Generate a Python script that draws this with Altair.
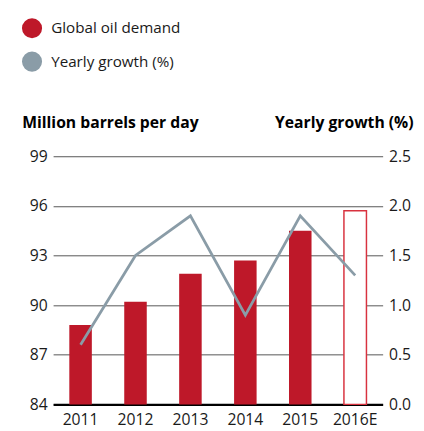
import altair as alt
import pandas as pd

years = ["2011", "2012", "2013", "2014", "2015", "2016E"]
demand = [88.8, 90.2, 91.9, 92.7, 94.5, 95.7]
growth = [0.6, 1.5, 1.9, 0.9, 1.9, 1.3]
estimate = [False, False, False, False, False, True]
series = ["Global oil demand", "Yearly growth (%)"]
left_ticks = [84, 87, 90, 93, 96, 99]
right_ticks = [0.0, 0.5, 1.0, 1.5, 2.0, 2.5]
baseline = 84

RED = "#BE1829"
GRAY = "#8A9CA7"
FONT = "Open Sans"
TXT = "#1A1A1A"

df = pd.DataFrame({"year": years, "demand": demand, "growth": growth,
                   "estimate": estimate, "series": series[0]})

xenc = alt.X("year:N", sort=years, title=None,
             scale=alt.Scale(paddingInner=0.59, paddingOuter=0.295),
             axis=alt.Axis(labelAngle=0, ticks=False, domainColor="#000000",
                           domainWidth=2.5, labelFontSize=16, labelPadding=8,
                           labelColor=TXT, labelFont=FONT))

yleft = alt.Y("demand:Q",
              scale=alt.Scale(domain=[84, 99], nice=False, zero=False),
              axis=alt.Axis(values=left_ticks, title="Million barrels per day",
                            titleAngle=0, titleAlign="left", titleBaseline="alphabetic",
                            titleX=-32, titleY=-29, titleFontSize=16, titleFontWeight="bold",
                            titleFont=FONT, titleColor="#000000",
                            labelFontSize=16, labelFont=FONT, labelColor=TXT,
                            labelPadding=6, ticks=False, domain=False,
                            grid=True, gridColor="#555555", gridWidth=1))

bars = alt.Chart(df).transform_filter("!datum.estimate").mark_bar().encode(
    x=xenc,
    y=yleft,
    y2=alt.datum(baseline),
    color=alt.Color("series:N", scale=alt.Scale(domain=series, range=[RED, GRAY]),
                    legend=alt.Legend(title=None, orient="none", legendX=-32, legendY=-141,
                                      symbolType="circle", symbolSize=420,
                                      symbolStrokeWidth=0, labelFontSize=15.5,
                                      labelFont=FONT, labelColor=TXT,
                                      labelOffset=9, rowPadding=13, padding=0)),
)

est = alt.Chart(df).transform_filter("datum.estimate").mark_bar(
    fill="#FFFFFF", stroke="#D8323F", strokeWidth=1.5
).encode(x=xenc, y=alt.Y("demand:Q"), y2=alt.datum(baseline))

line = alt.Chart(df).mark_line(color=GRAY, strokeWidth=2.8).encode(
    x=xenc,
    y=alt.Y("growth:Q",
            scale=alt.Scale(domain=[0, 2.5], nice=False),
            axis=alt.Axis(values=right_ticks, format=".1f", orient="right",
                          title="Yearly growth (%)", titleAngle=0, titleAlign="right",
                          titleBaseline="alphabetic", titleX=31, titleY=-29,
                          titleFontSize=16, titleFontWeight="bold", titleFont=FONT,
                          titleColor="#000000", labelFontSize=16, labelFont=FONT,
                          labelColor=TXT, labelPadding=6, ticks=False,
                          domain=False, grid=False)),
)

chart = alt.layer(alt.layer(bars, est), line).resolve_scale(y="independent").properties(
    width=336, height=253,
    autosize=alt.AutoSizeParams(type="none"),
    padding={"left": 46, "top": 147, "right": 34, "bottom": 24},
).configure_view(stroke=None)

chart.save("out.html", embed_options={"renderer": "svg", "actions": False})
